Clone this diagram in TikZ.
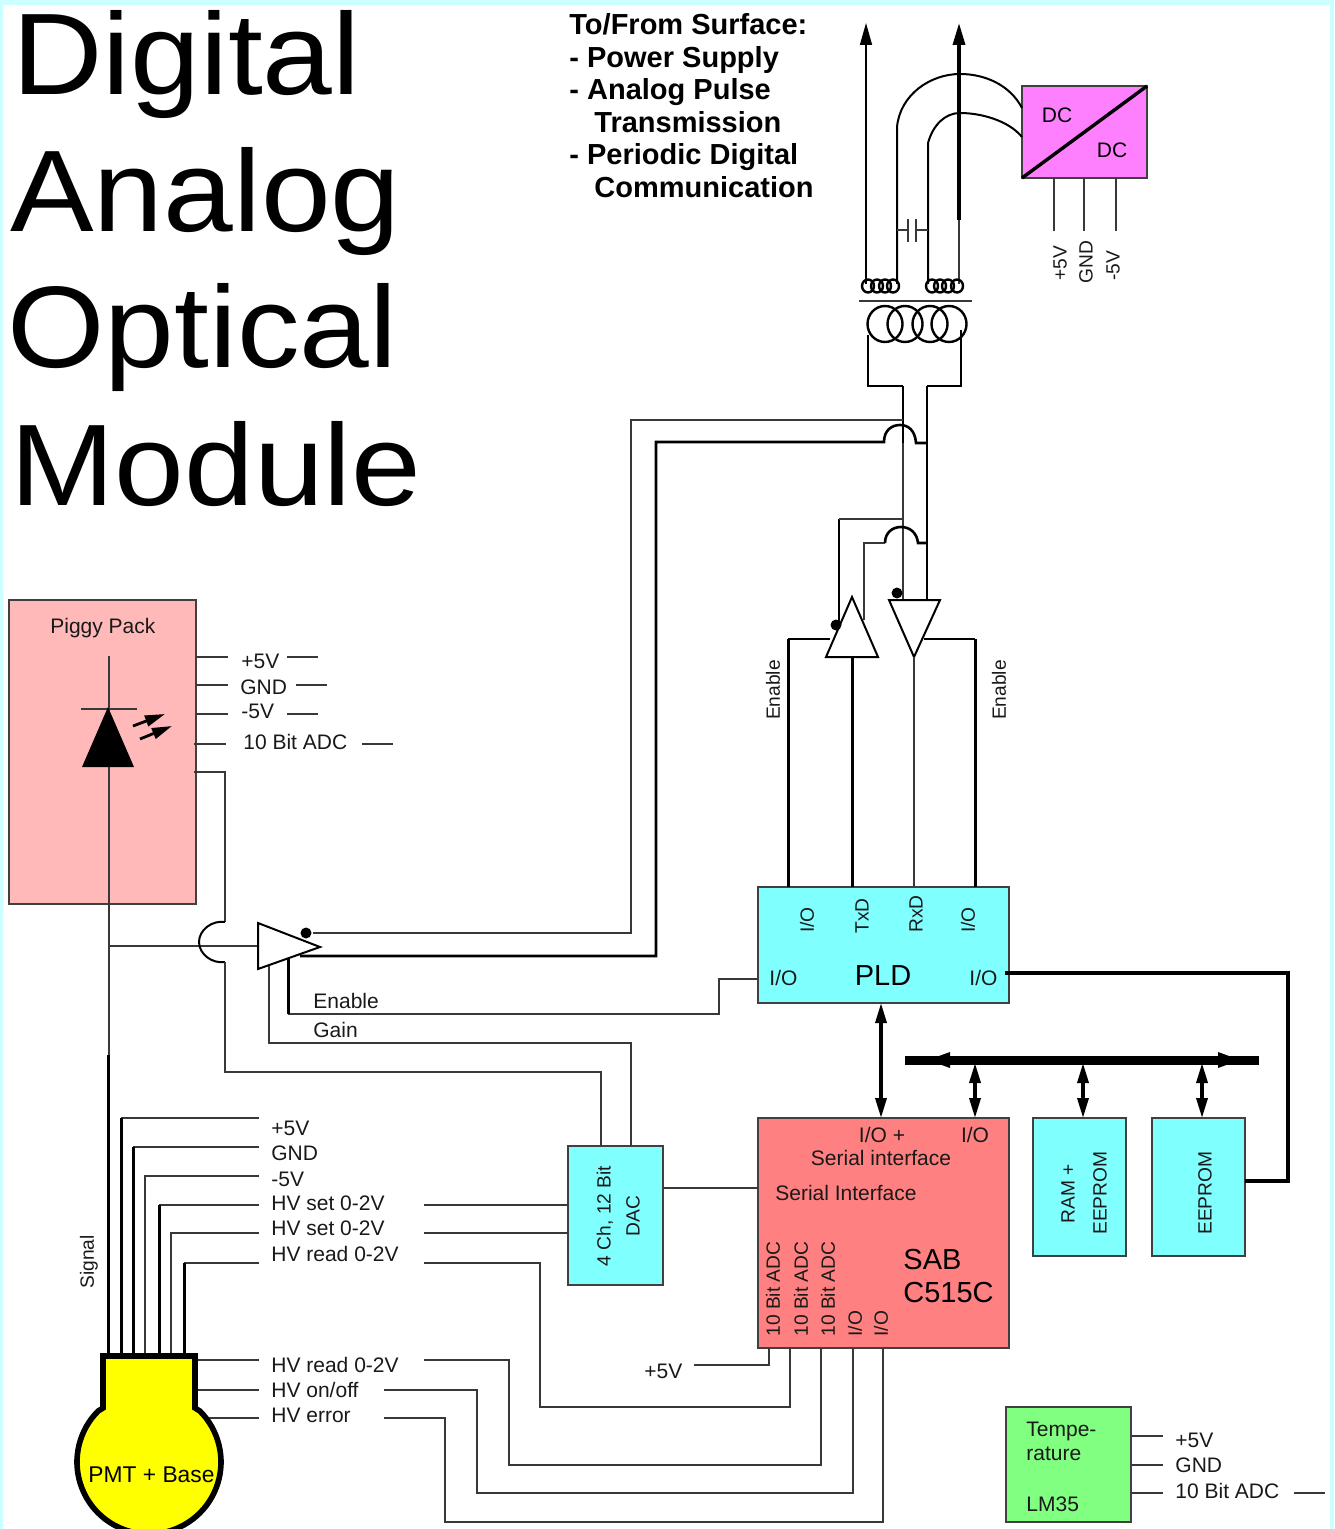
\documentclass[tikz,border=0pt]{standalone}
\usepackage{fontspec}
\setmainfont{Liberation Sans}
\newfontfamily\titleface[FakeStretch=1.08]{Liberation Sans}
\usetikzlibrary{arrows.meta}
\definecolor{bgcy}{HTML}{CCFFFF}
\definecolor{cyanbox}{HTML}{80FFFF}
\definecolor{pinkbox}{HTML}{FFB9B9}
\definecolor{redbox}{HTML}{FF8080}
\definecolor{greenbox}{HTML}{80FF80}
\definecolor{magbox}{HTML}{FF80FF}
\definecolor{pmtyellow}{HTML}{FFFF00}
\newcommand{\lblfont}{\fontsize{10.5}{12}\selectfont}
\newcommand{\rotfont}{\fontsize{9.6}{11}\selectfont}
\newcommand{\midfont}{\fontsize{14.5}{17}\selectfont\bfseries}
\newcommand{\bigfont}{\titleface\fontsize{58}{60}\selectfont}
\newcommand{\chipfont}{\fontsize{14.5}{17}\selectfont}
\newcommand{\boxnode}[6]{\node[boxs,fill=#6,minimum width={(#4-#2)*0.5pt},minimum height={(#5-#3)*0.5pt}] (#1) at ({(#2+#4)/2},{(#3+#5)/2}) {};}
\tikzset{
  boxs/.style={draw=black!75,line width=0.7pt,inner sep=0pt,outer sep=0pt,rectangle},
  wa/.style={draw=black!78,line width=0.75pt},
  wb/.style={draw=black,line width=1.3pt},
  wt/.style={draw=black,line width=1.5pt},
  wm/.style={draw=black,line width=1pt},
  wc/.style={draw=black,line width=1.7pt},
  lab/.style={font=\lblfont,inner sep=0pt,anchor=base west,text=black!90},
  rot/.style={font=\rotfont,inner sep=0pt,anchor=center,rotate=90,text=black!90},
  dbl/.style={line width=1.7pt,{Triangle[length=10pt,width=5.5pt]}-{Triangle[length=10pt,width=5.5pt]}},
  upa/.style={-{Triangle[length=11pt,width=6pt]}},
  lit/.style={line width=1.4pt,-{Triangle[length=10pt,width=5.5pt]}},
  title/.style={font=\bigfont,inner sep=0pt,anchor=base west},
  head/.style={font=\midfont,inner sep=0pt,anchor=base west},
  trig/.style={draw=black,line width=1pt,fill=white,line join=miter},
  dotk/.style={fill=black,draw=none},
}
\begin{document}
\begin{tikzpicture}[x=0.5pt,y=-0.5pt]
\useasboundingbox (0,0) rectangle (1334,1529);
\fill[bgcy] (0,0) rectangle (1334,1529);
\fill[white] (3,5) rectangle (1330,1529);

% title
\node[title] (tDigital) at (12,95) {Digital};
\node[title] (tAnalog) at (10,232) {Analog};
\node[title] (tOptical) at (7,368) {Optical};
\node[title] (tModule) at (10,505) {Module};

\node[head] (h1) at (569,35) {To/From Surface:};
\node[head] (h2) at (569,68) {- Power Supply};
\node[head] (h3) at (569,100) {- Analog Pulse};
\node[head] (h4) at (594,133) {Transmission};
\node[head] (h5) at (569,165) {- Periodic Digital};
\node[head] (h6) at (594,198) {Communication};

% boxes
\boxnode{piggy}{9}{600}{196}{904}{pinkbox}
\boxnode{dcdc}{1022}{86}{1147}{178}{magbox}
\boxnode{pld}{758}{887}{1009}{1003}{cyanbox}
\boxnode{cpu}{758}{1118}{1009}{1348}{redbox}
\boxnode{ram}{1033}{1118}{1126}{1256}{cyanbox}
\boxnode{eeprom}{1152}{1118}{1245}{1256}{cyanbox}
\boxnode{dac}{568}{1146}{663}{1285}{cyanbox}
\boxnode{temp}{1006}{1407}{1131}{1522}{greenbox}

% DC/DC
\draw[wc] (dcdc.south west) -- (dcdc.north east);
\node[font=\lblfont] (dc1) at (1057,115) {DC};
\node[font=\lblfont] (dc2) at (1112,150) {DC};
\coordinate (dcA) at (1054,178); \coordinate (dcAe) at (1054,231);
\coordinate (dcB) at (1084,178); \coordinate (dcBe) at (1084,231);
\coordinate (dcC) at (1116,178); \coordinate (dcCe) at (1116,231);
\draw[wa] (dcA) -- (dcAe); \draw[wa] (dcB) -- (dcBe); \draw[wa] (dcC) -- (dcCe);
\node[rot] (dcl1) at (1060,263) {+5V};
\node[rot] (dcl2) at (1086,262) {GND};
\node[rot] (dcl3) at (1113,266) {-5V};

% upper transformer side
\coordinate (upL) at (866,23); \coordinate (upLb) at (866,284);
\coordinate (upR) at (959,23); \coordinate (upRb) at (959,284);
\draw[wa,draw=black,upa] (upLb) -- (upL);
\draw[wa,line width=0.9pt] (upRb) -- (959,220);
\draw[wc,upa] (959,220) -- (upR);
\coordinate (coilA) at (897,284); \coordinate (coilB) at (928,284);
\coordinate (dcIn1) at (1022,108); \coordinate (dcIn2) at (1022,137);
\draw[wm] (coilA) -- (897,127) .. controls (900,95) and (930,74) .. (960,74) .. controls (985,74) and (1010,85) .. (dcIn1);
\draw[wm] (coilB) -- (928,143) .. controls (933,125) and (945,113) .. (960,113) .. controls (980,113) and (1008,120) .. (dcIn2);
% capacitor
\draw[wa] (897,230) -- (908,230) (908,219) -- (908,242) (916,219) -- (916,242) (916,230) -- (928,230);
% small coils
\foreach \cx in {868,877,885,893,932,940,948,957}
  \draw[wb,line width=1.2pt] (\cx,286) ellipse [x radius=6,y radius=6.5];
\coordinate (sepL) at (859,301); \coordinate (sepR) at (972,301);
\draw[wa] (sepL) -- (sepR);
% big coils
\foreach \cx in {885,905,930,949}
  \draw[wb,line width=1.2pt] (\cx,324) ellipse [x radius=17.5,y radius=18];
\coordinate (bigL) at (868,335); \coordinate (bigR) at (961,330);
\coordinate (trkL) at (903,386); \coordinate (trkR) at (927,386);
\draw[wm] (bigL) -- (868,386) -- (trkL);
\draw[wb] (trkL) -- (903,443);
\draw[wm] (bigR) -- (961,386) -- (trkR);
\draw[wb] (trkR) -- (927,600);
\draw[wa] (903,443) -- (903,600);

% amp outputs to bus
\coordinate (ampOutA) at (313,933);
\coordinate (ampOutB) at (300,956);
\draw[wa] (ampOutA) -- (631,933) -- (631,420) -- (903,420);
\draw[wb] (ampOutB) -- (656,956) -- (656,442) -- (884,442) .. controls (884,430) and (892,425) .. (900,425) .. controls (908,425) and (915,430) .. (916,443) -- (927,443);

% buffers
\coordinate (bufAen) at (839,621);
\coordinate (bufAin) at (864,620);
\draw[wb] (839,519) -- (bufAen);
\draw[wa] (903,519) -- (839,519);
\draw[wa] (bufAin) -- (864,543) -- (885,543);
\draw[wb] (885,543) .. controls (885,533) and (892,527) .. (901,527) .. controls (910,527) and (917,533) .. (918,543) -- (927,543);
\draw[trig] (852,597) -- (878,657) -- (826,657) -- cycle;
\draw[trig] (889,600) -- (940,600) -- (914,657) -- cycle;
\fill[dotk] (836,625) circle [radius=5.5];
\fill[dotk] (897,593) circle [radius=5.5];

% PLD
\coordinate (pIO1) at (788,887); \coordinate (pTx) at (852,887);
\coordinate (pRx) at (914,887); \coordinate (pIO2) at (975,887);
\draw[wt] (pIO1) -- (788,639);
\draw[wa,draw=black] (788,639) -- (830,639);
\draw[wt] (pTx) -- (852,657);
\draw[wa] (pRx) -- (914,657);
\draw[wt] (pIO2) -- (975,639);
\draw[wa,draw=black] (975,639) -- (924,639);
\node[rot] (en1) at (773,690) {Enable};
\node[rot] (en2) at (999,690) {Enable};
\node[rot] (pl1) at (807,920) {I/O};
\node[rot] (pl2) at (862,916) {TxD};
\node[rot] (pl3) at (916,914) {RxD};
\node[rot] (pl4) at (968,920) {I/O};
\node[lab] (pl5) at (769,985) {I/O};
\node[lab] (pl6) at (969,985) {I/O};
\node[font=\chipfont,inner sep=0pt] (pldname) at (883,976) {PLD};

% right loop
\coordinate (pOut) at (1005,973); \coordinate (eeIn) at (1245,1181);
\draw[wc] (pOut) -- (1288,973) -- (1288,1181) -- (eeIn);

% PLD - CPU and bus
\coordinate (pBot) at (881,1003); \coordinate (cTop) at (881,1118);
\draw[dbl] (pBot) -- (cTop);
\coordinate (busL) at (905,1060); \coordinate (busR) at (1259,1060);
\draw[line width=4.5pt] (busL) -- (busR);
\fill (928,1060) -- (950,1052) -- (950,1068) -- cycle;
\fill (1240,1060) -- (1218,1052) -- (1218,1068) -- cycle;
\coordinate (busA) at (975,1063); \coordinate (busB) at (1083,1063); \coordinate (busC) at (1202,1063);
\coordinate (cIO) at (975,1118); \coordinate (rTop) at (1083,1118); \coordinate (eTop) at (1202,1118);
\draw[dbl] (busA) -- (cIO);
\draw[dbl] (busB) -- (rTop);
\draw[dbl] (busC) -- (eTop);

% CPU text
\node[lab,anchor=center] (c1) at (882,1135) {I/O +};
\node[lab,anchor=center] (c2) at (975,1135) {I/O};
\node[lab,anchor=center] (c3) at (881,1158) {Serial interface};
\node[lab,anchor=center] (c4) at (846,1193) {Serial Interface};
\node[font=\chipfont,inner sep=0pt,anchor=base west] (c5) at (903,1269) {SAB};
\node[font=\chipfont,inner sep=0pt,anchor=base west] (c6) at (903,1302) {C515C};
\node[rot,anchor=west] (c7) at (773,1337) {10 Bit ADC};
\node[rot,anchor=west] (c8) at (801,1337) {10 Bit ADC};
\node[rot,anchor=west] (c9) at (828,1337) {10 Bit ADC};
\node[rot,anchor=west] (c10) at (855,1337) {I/O};
\node[rot,anchor=west] (c11) at (881,1337) {I/O};
\node[rot] (r1) at (1068,1194) {RAM +};
\node[rot] (r2) at (1100,1193) {EEPROM};
\node[rot] (e1) at (1205,1193) {EEPROM};
\node[rot] (d1) at (605,1216) {4 Ch, 12 Bit};
\node[rot] (d2) at (633,1216) {DAC};

% DAC wires
\coordinate (dacOut) at (663,1188); \coordinate (cpuIn) at (758,1188);
\draw[wa] (dacOut) -- (cpuIn);
\coordinate (dacT1) at (601,1146); \coordinate (dacT2) at (631,1146);
\coordinate (dacL1) at (568,1205); \coordinate (dacL2) at (568,1233);
\draw[wa] (424,1205) -- (dacL1);
\draw[wa] (424,1233) -- (dacL2);

% CPU pin wires
\coordinate (cB0) at (769,1348); \coordinate (cB1) at (790,1348); \coordinate (cB2) at (821,1348);
\coordinate (cB3) at (853,1348); \coordinate (cB4) at (883,1348);
\node[lab] (v5) at (644,1378) {+5V};
\draw[wa] (694,1365) -- (769,1365) -- (cB0);
\draw[wa] (424,1263) -- (540,1263) -- (540,1407) -- (790,1407) -- (cB1);
\draw[wa] (424,1360) -- (509,1360) -- (509,1465) -- (821,1465) -- (cB2);
\draw[wa] (384,1390) -- (477,1390) -- (477,1493) -- (853,1493) -- (cB3);
\draw[wa] (384,1418) -- (445,1418) -- (445,1522) -- (883,1522) -- (cB4);

% Piggy pack
\node[lab] (pp) at (50,633) {Piggy Pack};
\draw[wa] (196,657) -- (228,657) (287,657) -- (318,657);
\draw[wa] (196,685) -- (228,685) (296,685) -- (327,685);
\draw[wa] (196,714) -- (228,714) (287,714) -- (318,714);
\draw[wa] (194,744) -- (226,744) (362,744) -- (393,744);
\node[lab] (pv1) at (241,668) {+5V};
\node[lab] (pv2) at (240,694) {GND};
\node[lab] (pv3) at (241,718) {-5V};
\node[lab] (pv4) at (243,749) {10 Bit ADC};
% diode
\coordinate (sigTop) at (109,656); \coordinate (sigBr) at (109,946);
\coordinate (pmtSig) at (108,1353);
\draw[wa] (sigTop) -- (109,1055);
\draw[wt] (108,1055) -- (pmtSig);
\draw[wa] (81,709) -- (137,709);
\fill (108,707) -- (134,767) -- (82,767) -- cycle;
\draw[lit] (133,726) -- (165,714);
\draw[lit] (140,739) -- (172,726);
\node[rot] (sigl) at (89,1262) {Signal};

% amp
\coordinate (ampIn) at (258,946);
\draw[wa] (sigBr) -- (ampIn);
\coordinate (pgOut) at (194,772);
\draw[wa] (pgOut) -- (225,772) -- (225,922);
\draw[wm] (225,922) .. controls (212,920) and (199,930) .. (199,942) .. controls (199,954) and (212,964) .. (225,962);
\draw[wa] (225,962) -- (225,1072) -- (601,1072) -- (dacT1);
\coordinate (enPin) at (288,958); \coordinate (gainPin) at (269,964);
\coordinate (pldEn) at (758,979);
\draw[wa] (pldEn) -- (719,979) -- (719,1014) -- (288,1014);
\draw[wt] (288,1014) -- (enPin);
\draw[wa] (dacT2) -- (631,1043) -- (269,1043) -- (gainPin);
\draw[trig] (258,923) -- (320,947) -- (258,969) -- cycle;
\fill[dotk] (306,933) circle [radius=5.5];
\node[lab] (enl) at (313,1008) {Enable};
\node[lab] (gl) at (313,1037) {Gain};

% PMT wires
\coordinate (w1) at (259,1118); \coordinate (w2) at (259,1147); \coordinate (w3) at (259,1176);
\coordinate (w4) at (259,1205); \coordinate (w5) at (259,1233); \coordinate (w6) at (259,1263);
\draw[wa] (w1) -- (121,1118); \draw[wt] (121,1118) -- (121,1356);
\draw[wa] (w2) -- (133,1147); \draw[wt] (133,1147) -- (133,1356);
\draw[wa] (w3) -- (145,1176) -- (145,1356);
\draw[wa] (w4) -- (159,1205); \draw[wt] (159,1205) -- (159,1356);
\draw[wa] (w5) -- (171,1233) -- (171,1356);
\draw[wa] (w6) -- (184,1263); \draw[wt] (184,1263) -- (184,1356);
\coordinate (w7) at (259,1360); \coordinate (w8) at (259,1390); \coordinate (w9) at (259,1418);
\draw[wa] (196,1360) -- (w7);
\draw[wa] (196,1390) -- (w8);
\draw[wa] (205,1418) -- (w9);
\node[lab] (l1) at (271,1135) {+5V};
\node[lab] (l2) at (271,1160) {GND};
\node[lab] (l3) at (271,1186) {-5V};
\node[lab] (l4) at (271,1210) {HV set 0-2V};
\node[lab] (l5) at (271,1235) {HV set 0-2V};
\node[lab] (l6) at (271,1261) {HV read 0-2V};
\node[lab] (l7) at (271,1372) {HV read 0-2V};
\node[lab] (l8) at (271,1397) {HV on/off};
\node[lab] (l9) at (271,1422) {HV error};

% PMT body
\draw[fill=pmtyellow,line width=2.8pt,line join=miter] (103,1356) -- (195,1356) -- (195,1408)
  -- plot[domain=-45:225,samples=70] ({149+72*cos(\x)},{1462+72*sin(\x)})
  -- (103,1408) -- cycle;
\node[font=\fontsize{11.4}{13}\selectfont,inner sep=0pt,anchor=base west] (pmt) at (88,1482) {PMT + Base};

% Temperature
\node[lab] (t1) at (1026,1436) {Tempe-};
\node[lab] (t2) at (1026,1460) {rature};
\node[lab] (t3) at (1026,1511) {LM35};
\draw[wa] (1131,1436) -- (1163,1436);
\draw[wa] (1131,1465) -- (1163,1465);
\draw[wa] (1131,1493) -- (1163,1493) (1294,1493) -- (1325,1493);
\node[lab] (t4) at (1175,1447) {+5V};
\node[lab] (t5) at (1175,1472) {GND};
\node[lab] (t6) at (1175,1498) {10 Bit ADC};
\end{tikzpicture}
\end{document}
